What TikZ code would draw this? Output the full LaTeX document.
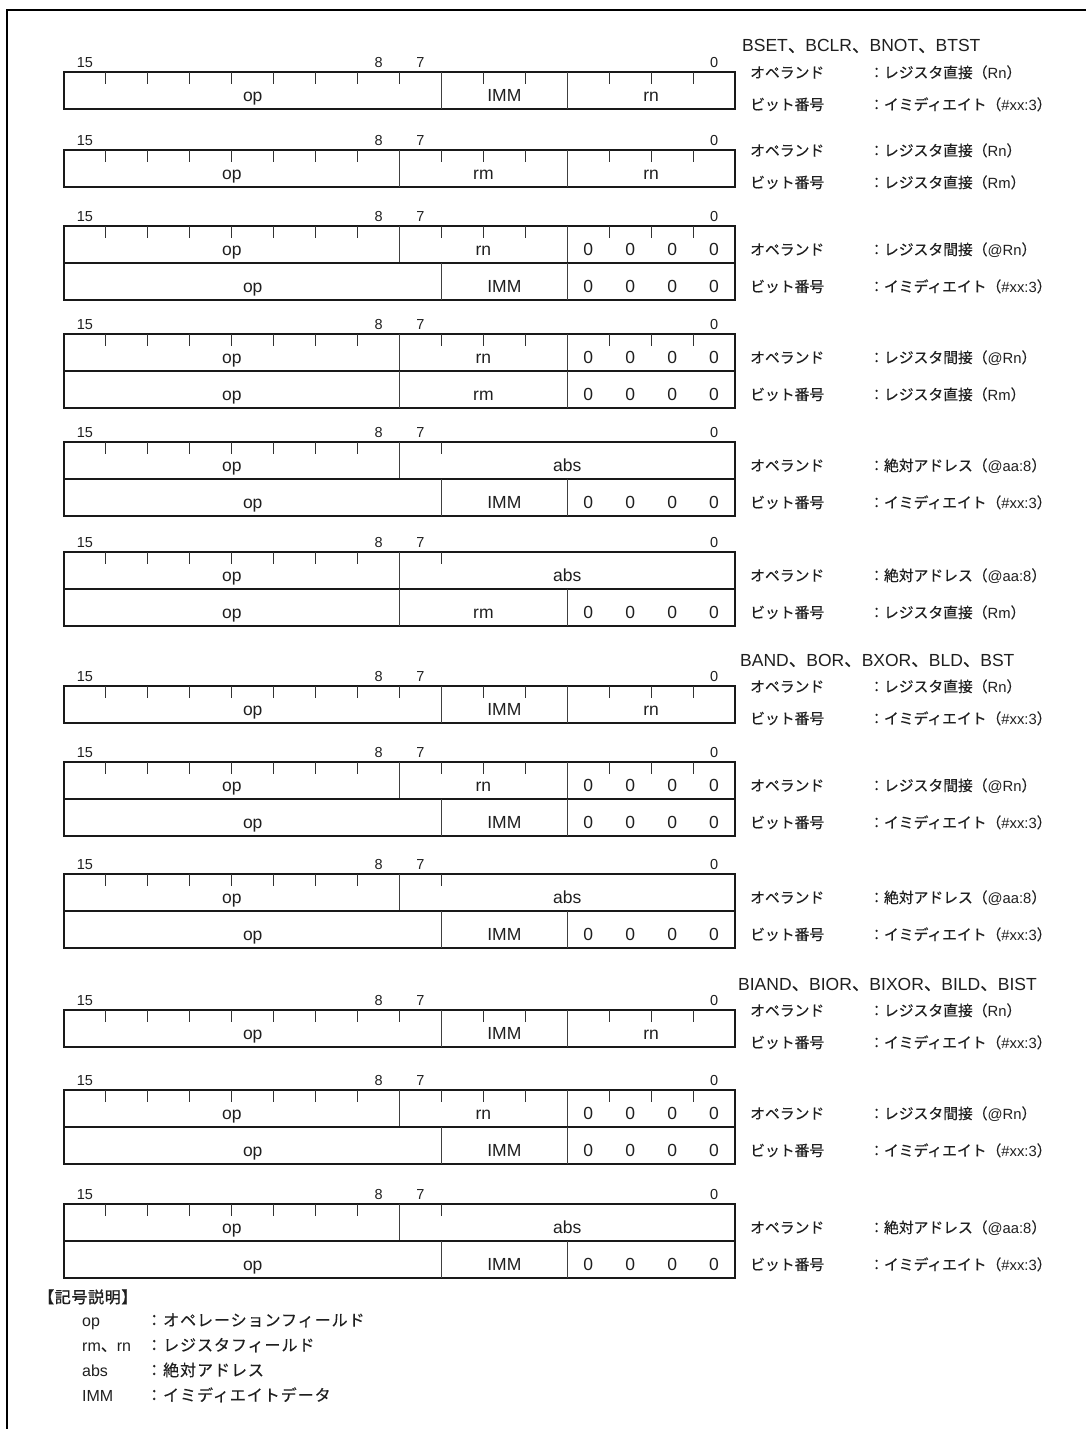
\documentclass[tikz,border=0pt]{standalone}
\usepackage{fontspec}
\setmainfont{Liberation Sans}
\newfontfamily\jp[FakeBold=0.4]{Noto Sans CJK JP}
\newfontfamily\jpw[LetterSpace=6,FakeBold=0.4]{Noto Sans CJK JP}
\newfontfamily\jpb[LetterSpace=4,FakeBold=1.2]{Noto Sans CJK JP}
\usepackage{tikz}

\newcommand{\en}[1]{{\rmfamily #1}}
\def\xa{64}
\def\bw{41.94}
\def\xt{750}
\def\xc{869}

\newcommand{\dirN}{レジスタ直接（\en{Rn}）}
\newcommand{\dirM}{レジスタ直接（\en{Rm}）}
\newcommand{\indN}{レジスタ間接（\en{@Rn}）}
\newcommand{\absA}{絶対アドレス（\en{@aa:8}）}
\newcommand{\immX}{イミディエイト（\en{\#xx:3}）}

% bit numbers over a register
\newcommand{\bitnos}[2]{%
  \node[bitno] (#1b15) at ({\xa+0.5*\bw},{#2-5}) {15};
  \node[bitno] (#1b8) at ({\xa+7.5*\bw},{#2-5}) {8};
  \node[bitno] (#1b7) at ({\xa+8.5*\bw},{#2-5}) {7};
  \node[bitno] (#1b0) at ({\xa+15.5*\bw},{#2-5}) {0};
}
% one 16-bit row: name, top, dividers, fields
\newcommand{\regrow}[4]{%
  \draw[regbox] (\xa,#2) rectangle ({\xa+16*\bw},{#2+37});
  \foreach \kk in {#3} \draw[divider] ({\xa+\kk*\bw},#2) -- ({\xa+\kk*\bw},{#2+37});
  \foreach \cx/\txt [count=\idx] in {#4} \node[fieldtxt] (#1f\idx) at ({\xa+\cx*\bw},{#2+29}) {\txt};
}
\newcommand{\tickmarks}[2]{%
  \foreach \kk in {#2} \draw[tick] ({\xa+\kk*\bw},#1) -- ++(0,12);
}
% addressing modes on the right
\newcommand{\modes}[5]{%
  \node[jt] (#1op) at (\xt,#2) {オペランド};
  \node[jt] (#1opm) at (\xc,#2) {：#4};
  \node[jt] (#1bn) at (\xt,#3) {ビット番号};
  \node[jt] (#1bnm) at (\xc,#3) {：#5};
}

\begin{document}
\begin{tikzpicture}[x=1pt,y=-1pt]
\tikzstyle{every node} = [inner sep=0pt, text=black!88]
\tikzstyle{regbox} = [line width=2pt, draw=black!90]
\tikzstyle{divider} = [line width=1pt, draw=black!75]
\tikzstyle{tick} = [line width=1pt, draw=black!80]
\tikzstyle{bitno} = [anchor=base, font=\fontsize{14.5}{16}\selectfont]
\tikzstyle{fieldtxt} = [anchor=base, font=\fontsize{17.5}{19}\selectfont]
\tikzstyle{head} = [anchor=base west, font=\fontsize{17.5}{20}\selectfont]
\tikzstyle{jt} = [anchor=base west, font=\jp\fontsize{14.8}{17}\selectfont]
\tikzstyle{lgj} = [anchor=base west, font=\jpw\fontsize{16}{18}\selectfont]
\tikzstyle{lgl} = [anchor=base west, font=\fontsize{16}{18}\selectfont]
\useasboundingbox (0,0) rectangle (1086,1429);
\draw[line width=2.2pt] (1086,10) -- (7,10) -- (7,1429);

% BSET, BCLR, BNOT, BTST
\node[head] (h1) at (742,52) {BSET{\jp 、}BCLR{\jp 、}BNOT{\jp 、}BTST};
\bitnos{a}{72}
\regrow{a}{72}{9,12}{4.5/op,10.5/IMM,14/rn}
\tickmarks{72}{1,...,8,10,11,13,14,15}
\modes{a}{78}{110}{\dirN}{\immX}

\bitnos{b}{150}
\regrow{b}{150}{8,12}{4/op,10/rm,14/rn}
\tickmarks{150}{1,...,7,9,10,11,13,14,15}
\modes{b}{156}{188}{\dirN}{\dirM}

\bitnos{c}{226}
\regrow{c}{226}{8,12}{4/op,10/rn,12.5/0,13.5/0,14.5/0,15.5/0}
\tickmarks{226}{1,...,7,9,10,11,13,14,15}
\regrow{cc}{263}{9,12}{4.5/op,10.5/IMM,12.5/0,13.5/0,14.5/0,15.5/0}
\modes{c}{255}{292}{\indN}{\immX}

\bitnos{d}{334}
\regrow{d}{334}{8,12}{4/op,10/rn,12.5/0,13.5/0,14.5/0,15.5/0}
\tickmarks{334}{1,...,7,9,10,11,13,14,15}
\regrow{dd}{371}{8,12}{4/op,10/rm,12.5/0,13.5/0,14.5/0,15.5/0}
\modes{d}{363}{400}{\indN}{\dirM}

\bitnos{e}{442}
\regrow{e}{442}{8}{4/op,12/abs}
\tickmarks{442}{1,...,7,9,...,15}
\regrow{ee}{479}{9,12}{4.5/op,10.5/IMM,12.5/0,13.5/0,14.5/0,15.5/0}
\modes{e}{471}{508}{\absA}{\immX}

\bitnos{f}{552}
\regrow{f}{552}{8}{4/op,12/abs}
\tickmarks{552}{1,...,7,9,...,15}
\regrow{ff}{589}{8,12}{4/op,10/rm,12.5/0,13.5/0,14.5/0,15.5/0}
\modes{f}{581}{618}{\absA}{\dirM}

% BAND, BOR, BXOR, BLD, BST
\node[head] (h2) at (740,666) {BAND{\jp 、}BOR{\jp 、}BXOR{\jp 、}BLD{\jp 、}BST};
\bitnos{g}{686}
\regrow{g}{686}{9,12}{4.5/op,10.5/IMM,14/rn}
\tickmarks{686}{1,...,8,10,11,13,14,15}
\modes{g}{692}{724}{\dirN}{\immX}

\bitnos{h}{762}
\regrow{h}{762}{8,12}{4/op,10/rn,12.5/0,13.5/0,14.5/0,15.5/0}
\tickmarks{762}{1,...,7,9,10,11,13,14,15}
\regrow{hh}{799}{9,12}{4.5/op,10.5/IMM,12.5/0,13.5/0,14.5/0,15.5/0}
\modes{h}{791}{828}{\indN}{\immX}

\bitnos{i}{874}
\regrow{i}{874}{8}{4/op,12/abs}
\tickmarks{874}{1,...,7,9,...,15}
\regrow{ii}{911}{9,12}{4.5/op,10.5/IMM,12.5/0,13.5/0,14.5/0,15.5/0}
\modes{i}{903}{940}{\absA}{\immX}

% BIAND, BIOR, BIXOR, BILD, BIST
\node[head] (h3) at (738,990) {BIAND{\jp 、}BIOR{\jp 、}BIXOR{\jp 、}BILD{\jp 、}BIST};
\bitnos{j}{1010}
\regrow{j}{1010}{9,12}{4.5/op,10.5/IMM,14/rn}
\tickmarks{1010}{1,...,8,10,11,13,14,15}
\modes{j}{1016}{1048}{\dirN}{\immX}

\bitnos{k}{1090}
\regrow{k}{1090}{8,12}{4/op,10/rn,12.5/0,13.5/0,14.5/0,15.5/0}
\tickmarks{1090}{1,...,7,9,10,11,13,14,15}
\regrow{kk}{1127}{9,12}{4.5/op,10.5/IMM,12.5/0,13.5/0,14.5/0,15.5/0}
\modes{k}{1119}{1156}{\indN}{\immX}

\bitnos{l}{1204}
\regrow{l}{1204}{8}{4/op,12/abs}
\tickmarks{1204}{1,...,7,9,...,15}
\regrow{ll}{1241}{9,12}{4.5/op,10.5/IMM,12.5/0,13.5/0,14.5/0,15.5/0}
\modes{l}{1233}{1270}{\absA}{\immX}

% legend
\node[lgj, font=\jpb\fontsize{16}{18}\selectfont] (lg) at (38,1303) {【記号説明】};
\node[lgl] (lgop) at (82,1326) {op};
\node[lgj] (lgopd) at (146,1326) {：オペレーションフィールド};
\node[lgl] (lgrm) at (82,1351) {rm{\jp 、}rn};
\node[lgj] (lgrmd) at (146,1351) {：レジスタフィールド};
\node[lgl] (lgabs) at (82,1376) {abs};
\node[lgj] (lgabsd) at (146,1376) {：絶対アドレス};
\node[lgl] (lgimm) at (82,1401) {IMM};
\node[lgj] (lgimmd) at (146,1401) {：イミディエイトデータ};
\end{tikzpicture}
\end{document}
